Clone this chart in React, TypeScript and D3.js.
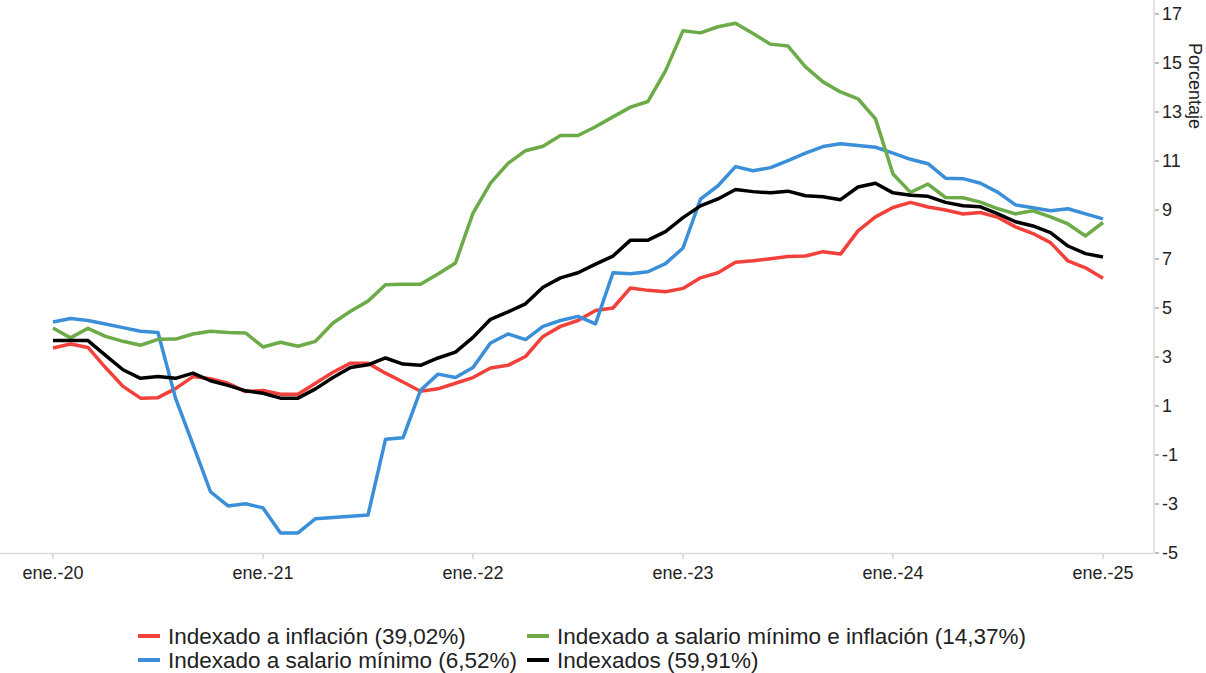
import React, { useRef, useEffect } from 'react';
import * as d3 from 'd3';

// Monthly categories, ene.-20 to ene.-25
const monthNames = ['ene.', 'feb.', 'mar.', 'abr.', 'may.', 'jun.', 'jul.', 'ago.', 'sept.', 'oct.', 'nov.', 'dic.'];
const years = ['20', '21', '22', '23', '24', '25'];
const months: string[] = [];
years.forEach(yr => monthNames.forEach(m => months.push(`${m}-${yr}`)));
months.splice(61);

const yTicks = [-5, -3, -1, 1, 3, 5, 7, 9, 11, 13, 15, 17];

const inflacion = [
  3.37, 3.53, 3.39, 2.57, 1.8, 1.32, 1.34, 1.71, 2.2, 2.11, 1.93, 1.59,
  1.63, 1.48, 1.48, 1.93, 2.38, 2.75, 2.75, 2.34, 1.98, 1.6, 1.7, 1.93,
  2.16, 2.55, 2.66, 3.02, 3.84, 4.25, 4.49, 4.9, 5.0, 5.82, 5.72, 5.66,
  5.8, 6.23, 6.44, 6.87, 6.93, 7.01, 7.1, 7.12, 7.3, 7.2, 8.15, 8.72,
  9.1, 9.31, 9.12, 9.0, 8.84, 8.9, 8.7, 8.31, 8.04, 7.67, 6.92, 6.64,
  6.21
];

const salarioMinimo = [
  4.43, 4.57, 4.49, 4.35, 4.2, 4.05, 4.0, 1.32, -0.58, -2.5, -3.08, -2.99,
  -3.16, -4.18, -4.18, -3.6, -3.55, -3.5, -3.45, -0.36, -0.3, 1.64, 2.3, 2.16,
  2.57, 3.57, 3.94, 3.71, 4.25, 4.49, 4.66, 4.35, 6.44, 6.4, 6.48, 6.81,
  7.45, 9.44, 9.99, 10.77, 10.6, 10.73, 11.02, 11.32, 11.59, 11.7, 11.63, 11.56,
  11.32, 11.07, 10.89, 10.3, 10.28, 10.09, 9.72, 9.21, 9.09, 8.97, 9.05, 8.84,
  8.64
];

const salarioInflacion = [
  4.18, 3.78, 4.17, 3.84, 3.64, 3.48, 3.72, 3.73, 3.94, 4.05, 4.0, 3.98,
  3.41, 3.6, 3.44, 3.64, 4.39, 4.87, 5.28, 5.95, 5.97, 5.97, 6.39, 6.84,
  8.87, 10.1, 10.9, 11.42, 11.6, 12.04, 12.04, 12.4, 12.8, 13.2, 13.43, 14.68,
  16.32, 16.23, 16.48, 16.62, 16.2, 15.77, 15.69, 14.84, 14.23, 13.82, 13.54, 12.72,
  10.47, 9.72, 10.06, 9.51, 9.5, 9.32, 9.05, 8.84, 8.97, 8.72, 8.43, 7.94,
  8.49
];

const indexados = [
  3.67, 3.67, 3.67, 3.07, 2.48, 2.13, 2.2, 2.13, 2.34, 2.03, 1.84, 1.62,
  1.52, 1.32, 1.32, 1.7, 2.16, 2.57, 2.68, 2.96, 2.71, 2.66, 2.96, 3.2,
  3.8, 4.54, 4.84, 5.17, 5.85, 6.23, 6.44, 6.79, 7.12, 7.77, 7.77, 8.12,
  8.69, 9.17, 9.45, 9.84, 9.75, 9.7, 9.77, 9.58, 9.54, 9.42, 9.94, 10.09,
  9.7, 9.6, 9.56, 9.31, 9.17, 9.13, 8.84, 8.52, 8.35, 8.08, 7.53, 7.22,
  7.08
];

const series = [
  { name: 'Indexado a inflación (39,02%)', values: inflacion, color: '#f2413a' },
  { name: 'Indexado a salario mínimo (6,52%)', values: salarioMinimo, color: '#3a8fd8' },
  { name: 'Indexado a salario mínimo e inflación (14,37%)', values: salarioInflacion, color: '#6cab48' },
  { name: 'Indexados (59,91%)', values: indexados, color: '#000000' }
];

const legendOrder = [0, 2, 1, 3];

const App = () => {
  const chartRef = useRef<SVGSVGElement>(null);

  useEffect(() => {
    document.body.style.margin = '0';
    const width = 1206;
    const height = 673;
    const font = '"Liberation Sans", Arial, sans-serif';

    const svg = d3.select(chartRef.current)
      .attr('width', width)
      .attr('height', height);
    svg.selectAll('*').remove();

    const x = d3.scalePoint<string>().domain(months).range([53, 1103]);
    const y = d3.scaleLinear().domain([-5, 17]).range([553, 14]);
    const axisX = 1154;

    // axis lines
    svg.append('line')
      .attr('x1', 0).attr('x2', axisX)
      .attr('y1', y(-5) + 0.5).attr('y2', y(-5) + 0.5)
      .attr('stroke', '#d9d9d9').attr('stroke-width', 1.5);
    svg.append('line')
      .attr('x1', axisX).attr('x2', axisX)
      .attr('y1', 0).attr('y2', y(-5) + 0.5)
      .attr('stroke', '#d9d9d9').attr('stroke-width', 1.5);

    // y ticks + labels (right side)
    const yg = svg.append('g');
    yTicks.forEach(t => {
      yg.append('line')
        .attr('x1', axisX + 1).attr('x2', axisX + 5)
        .attr('y1', y(t)).attr('y2', y(t))
        .attr('stroke', '#808080').attr('stroke-width', 1);
      yg.append('text')
        .attr('x', axisX + 8).attr('y', y(t))
        .attr('dy', '0.36em')
        .attr('font-family', font).attr('font-size', 18)
        .attr('fill', '#222')
        .text(t);
    });

    svg.append('text')
      .attr('transform', 'translate(1189,86) rotate(90)')
      .attr('text-anchor', 'middle')
      .attr('font-family', font).attr('font-size', 18)
      .attr('fill', '#222')
      .text('Porcentaje');

    // x ticks at each January
    const xTicks = months.filter(m => m.startsWith('ene.'));
    const xg = svg.append('g');
    xTicks.forEach(m => {
      xg.append('line')
        .attr('x1', x(m)!).attr('x2', x(m)!)
        .attr('y1', y(-5) + 1).attr('y2', y(-5) + 6)
        .attr('stroke', '#bfbfbf');
      xg.append('text')
        .attr('x', x(m)!).attr('y', 579)
        .attr('text-anchor', 'middle')
        .attr('font-family', font).attr('font-size', 18)
        .attr('fill', '#222')
        .text(m);
    });

    // lines
    const line = d3.line<number>()
      .x((_, i) => x(months[i])!)
      .y(d => y(d));

    series.forEach(s => {
      svg.append('path')
        .datum(s.values)
        .attr('fill', 'none')
        .attr('stroke', s.color)
        .attr('stroke-width', 3.5)
        .attr('stroke-linejoin', 'round')
        .attr('d', line);
    });

    // legend
    const legendPos = [
      { x: 138, y: 636 },
      { x: 527, y: 636 },
      { x: 138, y: 660 },
      { x: 527, y: 660 }
    ];
    legendOrder.forEach((si, k) => {
      const s = series[si];
      const p = legendPos[k];
      svg.append('line')
        .attr('x1', p.x).attr('x2', p.x + 22)
        .attr('y1', p.y).attr('y2', p.y)
        .attr('stroke', s.color).attr('stroke-width', 4);
      svg.append('text')
        .attr('x', p.x + 30).attr('y', p.y)
        .attr('dy', '0.35em')
        .attr('font-family', font).attr('font-size', 22.5)
        .attr('fill', '#222')
        .text(s.name);
    });
  }, []);

  return (
    <svg ref={chartRef} style={{ display: 'block' }}></svg>
  );
};

export default App;
